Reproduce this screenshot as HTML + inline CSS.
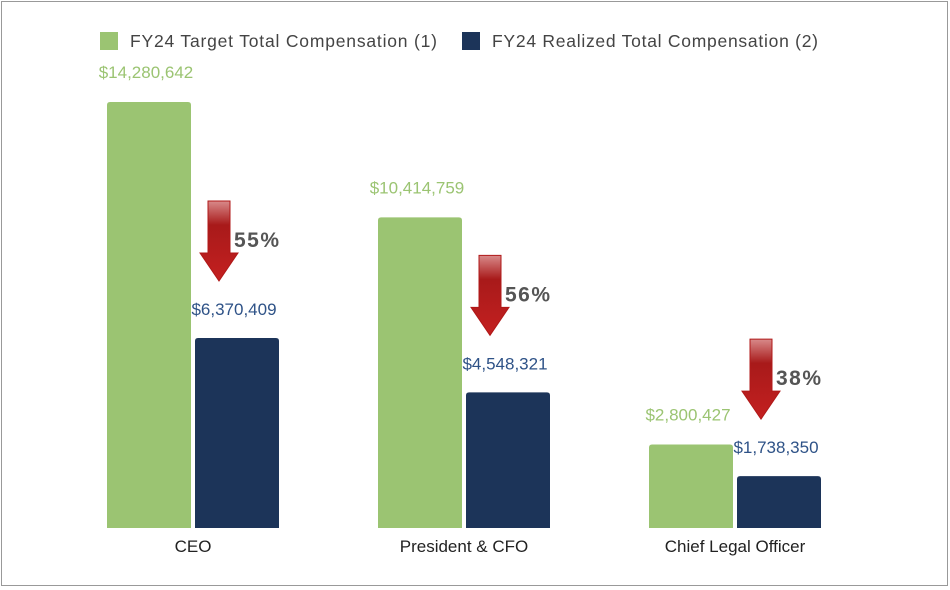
<!DOCTYPE html>
<html><head><meta charset="utf-8"><style>
body{margin:0;background:#fff;}
svg{display:block;font-family:"Liberation Sans",sans-serif;}
</style></head><body>
<svg id="chart" width="950" height="590">
<defs>
<linearGradient id="arrowGrad" x1="0" y1="0" x2="0" y2="1">
<stop offset="0" stop-color="#d88a8a"/><stop offset="0.3" stop-color="#a81a1a"/><stop offset="1" stop-color="#c42020"/>
</linearGradient>
</defs>
<rect x="1.5" y="1.5" width="946" height="584" fill="#fff" stroke="#999" stroke-width="1"/>
<g>
<rect x="100" y="32" width="18" height="18" fill="#9bc472"/>
<text x="130" y="47" font-size="17.5" fill="#444" textLength="307" lengthAdjust="spacing">FY24 Target Total Compensation (1)</text>
<rect x="462" y="32" width="18" height="18" fill="#1c3459"/>
<text x="492" y="47" font-size="17.5" fill="#444" textLength="326" lengthAdjust="spacing">FY24 Realized Total Compensation (2)</text>
</g>
<g id="marks"></g>
</svg>
<script>
const categories = ["CEO", "President & CFO", "Chief Legal Officer"];
const targetValues = [14280642, 10414759, 2800427];
const realizedValues = [6370409, 4548321, 1738350];
const pctLabels = ["55%", "56%", "38%"];

const baseY = 528, maxH = 426, maxV = 14280642;
const groupX0 = 193, groupStep = 271, barW = 84, gap = 4;
const yScale = v => baseY - v / maxV * maxH;
const xGroup = i => groupX0 + i * groupStep;
const fmt = v => "$" + v.toLocaleString("en-US");
const NS = "http://www.w3.org/2000/svg";
const g = document.getElementById("marks");
function mk(tag, attrs, text){const e=document.createElementNS(NS,tag);for(const k in attrs)e.setAttribute(k,attrs[k]);if(text!==undefined)e.textContent=text;g.appendChild(e);return e;}
function barPath(x,y,w,h){const r=3;return `M${x},${y+h}V${y+r}Q${x},${y} ${x+r},${y}H${x+w-r}Q${x+w},${y} ${x+w},${y+r}V${y+h}Z`;}

categories.forEach((c,i)=>{
  const cx = xGroup(i);
  const gx = cx - gap/2 - barW, bx = cx + gap/2;
  const gy = yScale(targetValues[i]), by = yScale(realizedValues[i]);
  let e = mk("path",{d:barPath(gx,gy,barW,baseY-gy),fill:"#9bc472"});
  
  
  e = mk("path",{d:barPath(bx,by,barW,baseY-by),fill:"#1c3459"});
  
  
  e = mk("text",{x:gx+barW/2-3,y:gy-24,"font-size":17,fill:"#9bc472","text-anchor":"middle"},fmt(targetValues[i]));
  
  
  e = mk("text",{x:bx+barW/2-3,y:by-23,"font-size":17,fill:"#2e5287","text-anchor":"middle"},fmt(realizedValues[i]));
  
  
  e = mk("text",{x:cx,y:552,"font-size":17,fill:"#222","text-anchor":"middle"},c);
  
  
  const ax = cx + 26, ab = by - 57, at = ab - 80, hs = ab - 28;
  e = mk("path",{d:`M${ax-11},${at}H${ax+11}V${hs}H${ax+19}L${ax},${ab}L${ax-19},${hs}H${ax-11}Z`,fill:"url(#arrowGrad)",stroke:"#b01818","stroke-width":1});
  
  
  e = mk("text",{x:ax+15,y:at+46,"font-size":21,"font-weight":"bold",fill:"#555","letter-spacing":"1.5"},pctLabels[i]);
  
  
});
</script>
</body></html>
